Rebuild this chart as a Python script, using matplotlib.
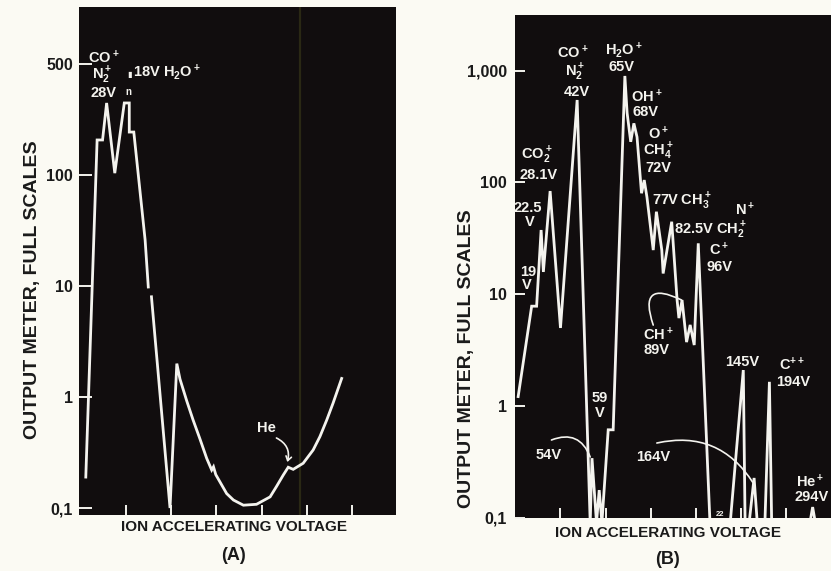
import numpy as np
import matplotlib
matplotlib.use("Agg")
import matplotlib.pyplot as plt

# ---- data (x in tick divisions, y in full scales) ----
a_x = [0.12, 0.37, 0.49, 0.58, 0.76, 0.97, 1.08, 1.08, 1.18, 1.43, 1.50, None,
       1.57, 1.98, 2.13, 2.20, 2.35, 2.49, 2.64, 2.79, 2.90, 2.94, 2.99, 3.23,
       3.38, 3.60, 3.89, 4.19, 4.33, 4.48, 4.59, 4.70, 4.92, 5.14, 5.29, 5.44,
       5.58, 5.77]
a_y = [0.19, 207, 207, 446, 104, 446, 446, 244, 244, 26, 9.8, None,
       8.0, 0.1, 2.0, 1.45, 0.92, 0.62, 0.42, 0.28, 0.22, 0.235, 0.20, 0.135,
       0.118, 0.106, 0.108, 0.126, 0.156, 0.198, 0.233, 0.223, 0.253, 0.333, 0.44, 0.62,
       0.88, 1.47]

b_x = [0.06, 0.36, 0.47, 0.57, 0.62, 0.77, 1.00, 1.37, 1.66, 1.70, 1.80, 1.86,
       1.92, 2.06, 2.17, 2.43, 2.48, 2.56, 2.63, 2.70, 2.80, 2.86, 2.92, 3.06,
       3.13, 3.25, 3.28, 3.47, 3.59, 3.63, 3.70, 3.80, 3.88, 3.97, 4.06, 4.32,
       4.77, 5.06, 5.10, 5.19, 5.30, 5.37, 5.54, 5.64, 5.69, 6.54, 6.60, 6.66]
b_y = [1.21, 7.8, 7.8, 37.5, 15.8, 83.7, 4.98, 547, 0.09, 0.34, 0.09, 0.176,
       0.09, 0.61, 0.61, 898, 418, 231, 338, 255, 80, 105, 74, 24.8,
       54.7, 24.8, 15.3, 44.5, 8.85, 6.1, 8.85, 3.72, 5.3, 3.5, 28.5, 0.09,
       0.09, 2.09, 0.09, 0.09, 0.226, 0.09, 0.09, 1.64, 0.09, 0.09, 0.124, 0.09]

a_yticks = [0.1, 1, 10, 100, 1000]
a_yticklabels = ["0,1", "1", "10", "100", "500"]
b_yticks = [0.1, 1, 10, 100, 1000]
b_yticklabels = ["0,1", "1", "10", "100", "1,000"]
xticks = [1, 2, 3, 4, 5, 6]

# peak labels: (text, x, log10 y)
a_labels = [("CO$^+$", 0.52, 3.06), ("N$_2^+$", 0.48, 2.90), ("28V", 0.50, 2.739),
            ("He", 4.10, -0.279)]
b_labels = [("CO$^+$", 1.28, 3.158), ("N$_2^+$", 1.32, 2.985), ("42V", 1.36, 2.809),
            ("H$_2$O$^+$", 2.40, 3.185), ("65V", 2.36, 3.036),
            ("OH$^+$", 2.92, 2.767), ("68V", 2.88, 2.633),
            ("O$^+$", 3.17, 2.440), ("CH$_4^+$", 3.17, 2.280), ("72V", 3.17, 2.126),
            ("CO$_2^+$", 0.47, 2.245), ("28.1V", 0.51, 2.066),
            ("22.5", 0.27, 1.768), ("V", 0.32, 1.648), ("19", 0.28, 1.200), ("V", 0.26, 1.081),
            ("N$^+$", 5.10, 1.753), ("C$^+$", 4.53, 1.395), ("96V", 4.54, 1.245),
            ("CH$^+$", 3.17, 0.634), ("89V", 3.14, 0.500),
            ("145V", 5.03, 0.395), ("C$^{++}$", 6.14, 0.365), ("194V", 6.17, 0.216),
            ("59", 1.88, 0.067), ("V", 1.88, -0.067),
            ("54V", 0.73, -0.440), ("164V", 3.06, -0.456),
            ("He$^+$", 6.54, -0.679), ("294V", 6.58, -0.814)]
b_left_labels = [("77V CH$_3^+$", 3.03, 1.827), ("82.5V CH$_2^+$", 3.53, 1.574)]

FONT = dict(family="Liberation Sans", fontweight="bold")
plt.rcParams["mathtext.default"] = "regular"

BG = "#fbfaf3"
PANEL = "#110d0e"
INK = "#f4f3ee"
DARK = "#1a1a1a"
LABEL_SIZE = 10.5

fig = plt.figure(figsize=(8.31, 5.71), dpi=100, facecolor=BG)
axA = fig.add_axes([79 / 831, 56 / 571, 317 / 831, 508 / 571])
axB = fig.add_axes([515 / 831, 52.7 / 571, 317 / 831, 503.3 / 571])


def style(ax, ylim, xlim, yticks, yticklabels, ylen, pad):
    ax.set_facecolor(PANEL)
    ax.set_yscale("log")
    ax.set_ylim(*ylim)
    ax.set_xlim(*xlim)
    for s in ax.spines.values():
        s.set_visible(False)
    ax.set_xticks(xticks)
    ax.set_xticklabels([])
    ax.set_yticks(yticks)
    ax.set_yticklabels(yticklabels)
    ax.yaxis.set_minor_locator(matplotlib.ticker.NullLocator())
    ax.tick_params(axis="x", direction="in", length=7.5, width=1.4, color=INK)
    ax.tick_params(axis="y", direction="in", length=ylen, width=1.4, color=INK, pad=pad)
    for t in ax.get_yticklabels():
        t.set_fontsize(11.5)
        t.set_color(DARK)
        t.set_fontweight("bold")
        t.set_fontfamily(FONT["family"])


style(axA, (0.0865, 3266), (-0.03, 6.97), a_yticks, a_yticklabels, 9, 4.3)
style(axB, (0.0984, 3155), (-0.01, 7.03), b_yticks, b_yticklabels, 7.5, 5.8)

# faint scan streak on panel A
axA.axvline(4.85, color="#2a2814", lw=1.6, zorder=1)

axA.plot(np.array(a_x, dtype=float), np.array(a_y, dtype=float), color=INK, lw=2.0,
         solid_joinstyle="miter", zorder=3)
axB.plot(b_x, b_y, color=INK, lw=2.0, solid_joinstyle="miter", zorder=3)

for txt, x, ly in a_labels:
    axA.text(x, 10 ** ly, txt, color=INK, fontsize=LABEL_SIZE, ha="center", va="center", **FONT)
axA.text(1.16, 10 ** 2.928, "18V H$_2$O$^+$", color=INK, fontsize=LABEL_SIZE, ha="left",
         va="center", **FONT)
axA.text(1.08, 10 ** 2.91, "\u25ae", color=INK, fontsize=6, ha="center", va="center")
axA.text(1.06, 10 ** 2.75, "n", color=INK, fontsize=7, ha="center", va="center", **FONT)
axA.annotate("", xy=(4.57, 10 ** -0.586), xytext=(4.33, 10 ** -0.369),
             arrowprops=dict(arrowstyle="->,head_length=0.3,head_width=0.2", color=INK,
                             lw=1.2, connectionstyle="arc3,rad=-0.4",
                             shrinkA=0, shrinkB=0))

for txt, x, ly in b_labels:
    axB.text(x, 10 ** ly, txt, color=INK, fontsize=LABEL_SIZE, ha="center", va="center", **FONT)
for txt, x, ly in b_left_labels:
    axB.text(x, 10 ** ly, txt, color=INK, fontsize=LABEL_SIZE, ha="left", va="center", **FONT)
axB.text(4.54, 10 ** -0.975, "22", color=INK, fontsize=5.5, ha="center", va="center", **FONT)

arcs = [((3.06, 0.723), (3.69, 0.947), -1.2),
        ((0.80, -0.306), (1.66, -0.458), -0.5),
        ((3.14, -0.333), (5.28, -0.691), -0.35)]
for (x0, l0), (x1, l1), rad in arcs:
    axB.annotate("", xy=(x1, 10 ** l1), xytext=(x0, 10 ** l0),
                 arrowprops=dict(arrowstyle="-", color=INK, lw=1.2,
                                 connectionstyle=f"arc3,rad={rad}",
                                 shrinkA=0, shrinkB=0))

# axis titles
for cx, cy in [(33, 290), (467, 359)]:
    fig.text(cx / 831, 1 - cy / 571, "OUTPUT METER, FULL SCALES", rotation=90,
             ha="center", va="center", fontsize=14, color=DARK, **FONT)
for cx, cy, lab, cy2 in [(234, 527, "(A)", 555), (668, 533, "(B)", 560)]:
    fig.text(cx / 831, 1 - cy / 571, "ION ACCELERATING VOLTAGE", ha="center",
             va="center", fontsize=11, color=DARK, **FONT)
    fig.text(cx / 831, 1 - cy2 / 571, lab, ha="center", va="center", fontsize=13,
             color=DARK, **FONT)

fig.savefig("out.png", dpi=100, facecolor=BG)
